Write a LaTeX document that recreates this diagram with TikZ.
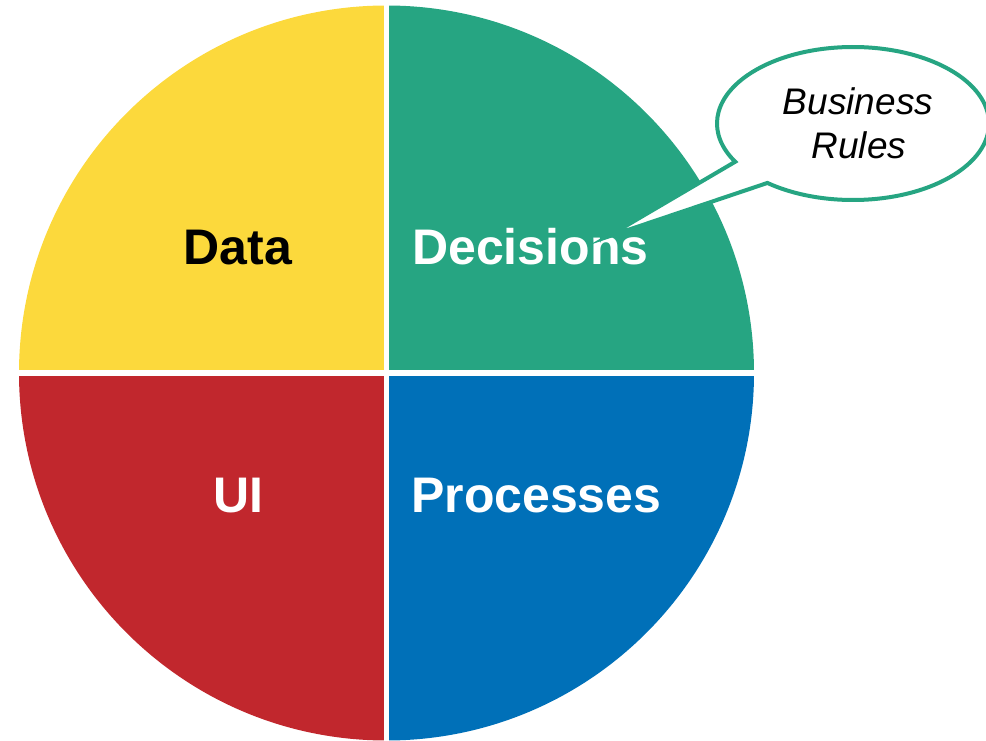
\documentclass[tikz,border=0pt]{standalone}
\usepackage{fontspec}
\setmainfont{Liberation Sans}
\definecolor{qyellow}{RGB}{252,217,60}
\definecolor{qteal}{RGB}{38,165,130}
\definecolor{qred}{RGB}{193,39,45}
\definecolor{qblue}{RGB}{0,112,184}
\begin{document}
\begin{tikzpicture}[x=1pt,y=1pt,
  quadlabel/.style={font=\fontsize{50}{60}\selectfont\bfseries, inner sep=0pt},
  calloutlabel/.style={font=\fontsize{37}{43}\selectfont\itshape, align=center, inner sep=0pt},
  gap/.style={white, line width=5.5pt}]
\useasboundingbox (0,0) rectangle (986,-741);
\def\R{367.5}
\coordinate (c) at (386.5,-373);
% quadrants
\fill[qyellow] (c) -- ++(180:\R) arc[start angle=180, end angle=90, radius=\R] -- cycle;
\fill[qteal] (c) -- ++(90:\R) arc[start angle=90, end angle=0, radius=\R] -- cycle;
\fill[qblue] (c) -- ++(0:\R) arc[start angle=0, end angle=-90, radius=\R] -- cycle;
\fill[qred] (c) -- ++(-90:\R) arc[start angle=-90, end angle=-180, radius=\R] -- cycle;
% white gaps
\draw[gap] ([xshift=-375pt]c) -- ([xshift=375pt]c);
\draw[gap] ([yshift=-375pt]c) -- ([yshift=375pt]c);
% labels
\node[quadlabel, anchor=base, text=black] (data) at (238,-264) {Data};
\node[quadlabel, anchor=base west, text=white] (decisions) at (412,-264) {Decisions};
\node[quadlabel, anchor=base, text=white] (ui) at (238,-512.5) {UI};
\node[quadlabel, anchor=base west, text=white] (processes) at (411,-512.5) {Processes};
% callout
\coordinate (ec) at (853,-123.5);
\coordinate (tip) at (607,-237);
\draw[qteal, line width=4pt, fill=white, line join=miter, miter limit=25]
  (ec) ++(231:136 and 76.5)
  arc[start angle=231, end angle=570, x radius=136, y radius=76.5]
  -- (tip) -- cycle;
\node[calloutlabel, anchor=base] (br1) at (858,-115) {Business};
\node[calloutlabel, anchor=base] (br2) at (859,-158.3) {Rules};
\end{tikzpicture}
\end{document}
